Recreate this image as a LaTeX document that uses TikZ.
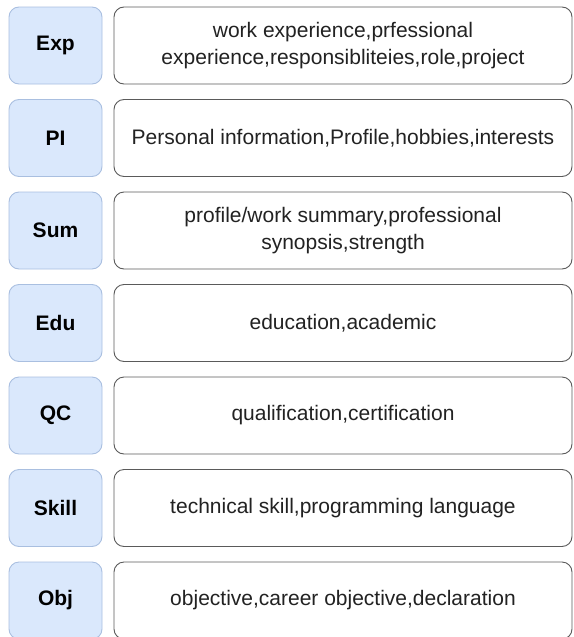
\documentclass[tikz,border=0pt]{standalone}
\usepackage{fontspec}
\setmainfont{Liberation Sans}
\definecolor{dae8fc}{HTML}{DAE8FC}
\definecolor{a9bfe0}{HTML}{A9BFE0}
\definecolor{uuuuuu}{HTML}{5A5A5A}
\definecolor{tttttt}{HTML}{222222}

\begin{document}
\begin{tikzpicture}[line join=round,x=1pt,y=-1pt,
    key/.style={draw=a9bfe0,fill=dae8fc,line width=0.9pt,rounded corners=10pt,minimum width=93pt,minimum height=77pt,font=\fontsize{21}{25}\selectfont\bfseries,text=black},
    val/.style={draw=uuuuuu,fill=white,line width=0.9pt,rounded corners=10pt,minimum width=458pt,minimum height=77pt,align=center,font=\fontsize{21}{27}\selectfont,text=tttttt}]
      \useasboundingbox (0,0) rectangle (573,637);
      \node[key] (exp) at (55.5,45.5) {Exp};
      \node[val] (expv) at (343,45.5) {work experience,prfessional\\experience,responsibliteies,role,project};
      \node[key] (pi) at (55.5,138) {PI};
      \node[val] (piv) at (343,138) {Personal information,Profile,hobbies,interests};
      \node[key] (sum) at (55.5,230.5) {Sum};
      \node[val] (sumv) at (343,230.5) {profile/work summary,professional\\synopsis,strength};
      \node[key] (edu) at (55.5,323) {Edu};
      \node[val] (eduv) at (343,323) {education,academic};
      \node[key] (qc) at (55.5,415.5) {QC};
      \node[val] (qcv) at (343,415.5) {qualification,certification};
      \node[key] (skill) at (55.5,508) {Skill};
      \node[val] (skillv) at (343,508) {technical skill,programming language};
      \node[key] (obj) at (55.5,600.5) {Obj};
      \node[val] (objv) at (343,600.5) {objective,career objective,declaration};
    \end{tikzpicture}
\end{document}
